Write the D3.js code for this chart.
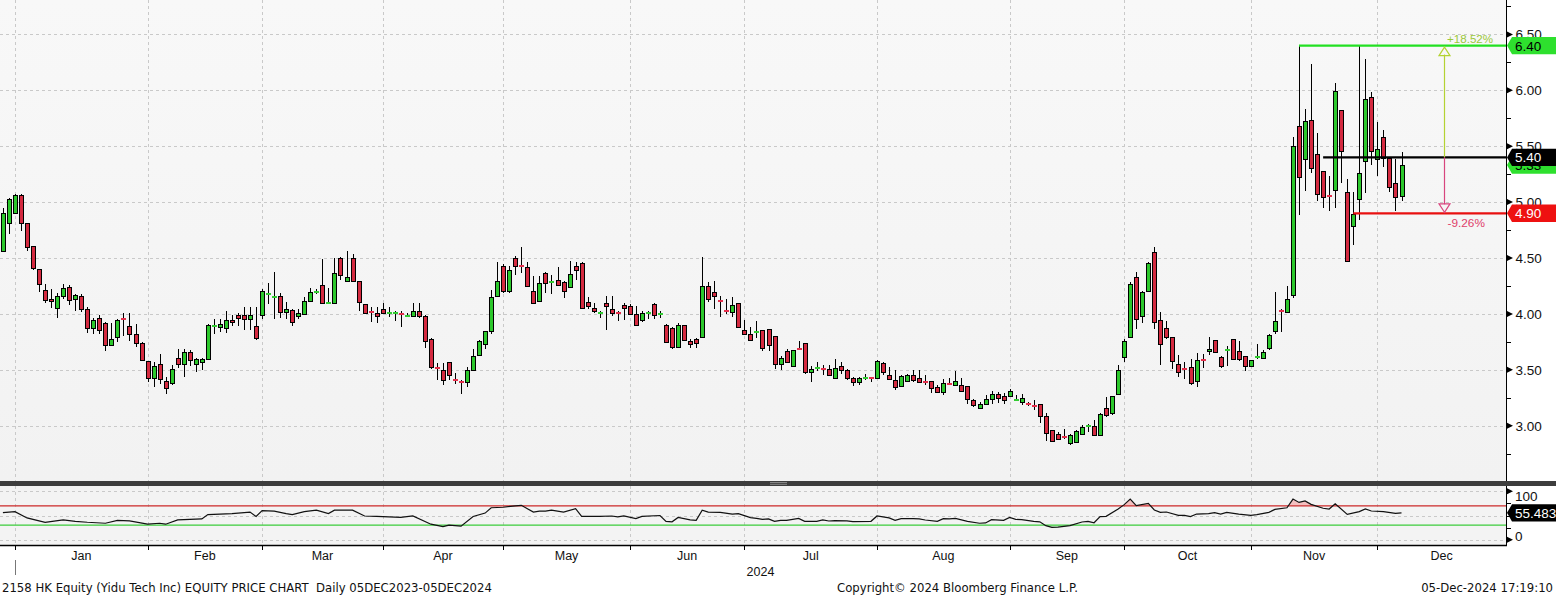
<!DOCTYPE html>
<html><head><meta charset="utf-8">
<script src="https://cdn.jsdelivr.net/npm/d3@7"></script>
<style>body{margin:0;background:#fff;}svg{display:block;}</style>
</head><body>
<svg id="chart" width="1556" height="597"></svg>
<script>
// ---------- DATA ----------
const opens = [4.563,4.811,4.90,5.066,4.811,4.608,4.398,4.213,4.13,4.057,4.162,4.243,4.135,4.162,4.048,3.877,3.967,3.922,3.725,3.793,
3.96,3.89,3.823,3.743,3.575,3.428,3.554,3.404,3.383,3.608,3.554,3.66,3.554,3.569,3.60,3.89,3.886,3.877,3.949,3.99,
3.99,3.95,3.89,3.994,4.175,4.145,4.164,4.015,4.036,3.98,4.0,4.113,4.195,4.262,4.095,4.098,4.50,4.292,4.50,4.292,
4.089,4.02,4.009,4.045,4.005,4.01,4.0,3.98,3.985,4.03,3.985,3.777,3.52,3.50,3.569,3.41,3.395,3.39,3.50,3.628,
3.732,3.845,4.164,4.43,4.202,4.50,4.435,4.423,4.208,4.113,4.366,4.283,4.304,4.286,4.238,4.43,4.455,4.104,4.054,4.003,
4.101,4.045,4.01,4.083,4.068,4.0,3.946,4.006,4.089,3.997,3.905,3.875,3.702,3.905,3.762,3.777,3.792,4.253,4.196,4.116,
4.027,4.018,4.098,3.857,3.821,3.84,3.86,3.866,3.798,3.554,3.664,3.533,3.69,3.741,3.479,3.512,3.512,3.503,3.429,3.53,
3.50,3.429,3.393,3.426,3.426,3.426,3.56,3.455,3.411,3.357,3.399,3.455,3.426,3.393,3.399,3.345,3.30,3.378,3.363,3.36,
3.351,3.226,3.158,3.194,3.238,3.286,3.262,3.268,3.232,3.214,3.194,3.179,3.19,3.089,2.964,2.929,2.90,2.848,2.857,2.929,
2.997,3.0,2.92,3.161,3.113,3.286,3.613,3.792,4.327,3.985,4.202,4.554,3.946,3.875,3.792,3.554,3.512,3.524,3.399,3.592,
3.667,3.768,3.613,3.679,3.777,3.667,3.619,3.53,3.61,3.604,3.696,3.851,4.027,4.021,4.165,5.68,5.383,5.733,5.427,5.279,
5.059,5.11,5.823,5.089,4.789,5.026,5.368,5.936,5.383,5.579,5.398,5.169,5.059];
const highs = [4.95,5.04,5.075,5.075,4.811,4.608,4.40,4.27,4.22,4.19,4.27,4.26,4.18,4.18,4.06,3.967,3.99,3.93,3.922,3.95,
4.01,4.01,3.91,3.75,3.58,3.57,3.64,3.434,3.54,3.69,3.69,3.674,3.61,3.61,3.913,3.95,3.95,4.03,3.99,4.01,
4.06,4.06,4.06,4.223,4.28,4.372,4.19,4.11,4.04,4.045,4.149,4.23,4.223,4.49,4.23,4.50,4.512,4.565,4.536,4.292,
4.09,4.065,4.06,4.095,4.06,4.03,4.024,4.006,4.095,4.10,3.99,3.78,3.56,3.56,3.569,3.47,3.405,3.524,3.69,3.77,
3.85,4.214,4.46,4.446,4.43,4.521,4.595,4.467,4.342,4.342,4.372,4.35,4.417,4.298,4.476,4.467,4.46,4.155,4.095,4.03,
4.164,4.164,4.03,4.095,4.09,4.074,4.024,4.03,4.098,4.024,3.91,3.88,3.917,3.905,3.777,3.786,4.506,4.283,4.292,4.164,
4.134,4.155,4.098,3.946,3.887,3.935,3.86,3.866,3.80,3.619,3.688,3.679,3.762,3.741,3.53,3.568,3.539,3.539,3.598,3.568,
3.509,3.44,3.44,3.458,3.44,3.589,3.568,3.521,3.50,3.45,3.464,3.50,3.494,3.45,3.40,3.36,3.42,3.426,3.485,3.426,
3.352,3.241,3.211,3.277,3.31,3.30,3.292,3.33,3.271,3.28,3.211,3.232,3.19,3.113,2.964,2.943,2.973,2.923,2.958,3.003,
3.018,3.048,3.113,3.256,3.262,3.539,3.777,4.283,4.372,4.202,4.46,4.601,4.021,3.935,3.792,3.628,3.568,3.598,3.649,3.643,
3.792,3.768,3.619,3.717,3.777,3.762,3.619,3.592,3.732,3.679,3.821,4.193,4.045,4.253,5.585,6.40,5.837,6.233,5.615,5.28,
5.234,6.069,5.823,5.208,5.086,6.40,6.283,5.986,5.719,5.644,5.40,5.386,5.445];
const lows = [4.55,4.713,4.90,4.745,4.566,4.392,4.198,4.10,4.054,3.96,4.13,4.08,4.03,4.02,3.83,3.82,3.82,3.668,3.72,3.75,
3.80,3.76,3.70,3.585,3.39,3.35,3.37,3.284,3.36,3.518,3.434,3.53,3.48,3.50,3.59,3.82,3.84,3.83,3.89,3.89,
3.86,3.86,3.77,3.955,4.09,3.955,3.96,3.95,3.89,3.955,3.995,4.104,4.18,4.089,4.089,4.095,4.30,4.29,4.29,4.03,
4.0,3.926,3.92,4.0,3.97,3.94,3.887,3.976,3.98,3.96,3.696,3.509,3.405,3.36,3.405,3.375,3.286,3.35,3.50,3.625,
3.69,3.82,4.149,4.19,4.187,4.35,4.363,4.238,4.095,4.104,4.185,4.18,4.247,4.143,4.238,4.304,4.05,4.045,4.006,3.96,
3.857,3.985,3.94,3.946,3.994,3.90,3.926,3.955,3.95,3.964,3.747,3.688,3.70,3.762,3.696,3.696,3.786,4.104,4.045,3.97,
4.0,3.976,3.875,3.815,3.762,3.783,3.667,3.667,3.509,3.50,3.56,3.53,3.673,3.464,3.39,3.488,3.45,3.45,3.426,3.464,
3.405,3.354,3.366,3.41,3.39,3.42,3.45,3.414,3.321,3.351,3.39,3.39,3.384,3.36,3.292,3.292,3.277,3.36,3.36,3.31,
3.197,3.167,3.146,3.185,3.197,3.203,3.19,3.256,3.226,3.182,3.176,3.137,3.024,2.863,2.854,2.869,2.884,2.83,2.857,2.923,
2.94,2.92,2.92,3.077,3.092,3.286,3.574,3.792,3.866,3.917,4.20,3.866,3.539,3.777,3.509,3.44,3.42,3.36,3.345,3.518,
3.628,3.649,3.518,3.53,3.589,3.577,3.488,3.524,3.598,3.598,3.679,3.821,3.836,4.009,4.144,4.887,5.095,5.258,5.006,4.946,
4.916,4.946,5.169,4.477,4.62,4.842,5.08,5.332,5.237,5.318,5.086,4.916,5.006];
const closes = [4.901,5.025,5.066,4.811,4.602,4.413,4.263,4.123,4.115,4.162,4.228,4.123,4.165,4.048,3.877,3.949,3.859,3.725,3.778,3.949,
3.95,3.817,3.74,3.59,3.428,3.53,3.42,3.338,3.509,3.554,3.66,3.59,3.60,3.60,3.904,3.895,3.913,3.949,3.93,3.967,
3.95,3.99,3.78,4.208,4.18,4.15,4.021,4.04,3.932,4.009,4.119,4.20,4.20,4.095,4.10,4.366,4.348,4.333,4.292,4.104,
4.009,4.012,3.98,4.009,4.012,4.012,3.99,3.985,4.03,3.985,3.762,3.524,3.515,3.405,3.45,3.405,3.39,3.494,3.622,3.762,
3.845,4.149,4.298,4.208,4.393,4.43,4.43,4.247,4.095,4.277,4.274,4.286,4.256,4.202,4.357,4.393,4.051,4.068,4.03,4.006,
4.068,4.006,4.003,4.051,4.0,3.902,4.006,4.009,3.994,4.0,3.753,3.702,3.905,3.771,3.732,3.741,4.253,4.134,4.158,4.113,
4.024,4.083,3.881,3.821,3.771,3.845,3.693,3.723,3.554,3.607,3.569,3.673,3.685,3.479,3.509,3.515,3.506,3.456,3.518,3.50,
3.429,3.393,3.429,3.429,3.42,3.583,3.479,3.414,3.345,3.446,3.455,3.405,3.39,3.387,3.336,3.30,3.384,3.372,3.396,3.31,
3.241,3.188,3.197,3.241,3.286,3.247,3.232,3.313,3.235,3.25,3.188,3.173,3.089,2.938,2.863,2.884,2.899,2.917,2.952,2.991,
3.0,2.92,3.101,3.098,3.262,3.494,3.762,4.268,3.955,4.196,4.455,3.929,3.732,3.792,3.583,3.482,3.509,3.381,3.589,3.586,
3.687,3.658,3.53,3.682,3.598,3.598,3.53,3.589,3.613,3.661,3.815,3.94,4.024,4.134,5.502,5.222,5.727,5.303,5.071,5.044,
5.053,5.992,5.454,4.477,4.896,5.258,5.918,5.457,5.472,5.398,5.133,5.044,5.332];

// RSI(14) readings: [candle number, value]
const rsiReadings = [[1,56],[3,58],[5,45],[8,36],[11,41],[13,38],[15,36],[18,34],[20,40],[22,39],[25,32],[27,34],[28,32],[30,41],[34,43],[35,52],[39,54],[42,57],[43,48],[44,60],[46,59],[48,54],[49,52],[51,58],[53,61],[55,54],[56,61],[59,61],[61,49],[63,48],[67,46],[69,49],[72,32],[74,27],[75,30],[77,28],[79,48],[81,55],[82,66],[84,67],[86,70],[87,71],[89,57],[90,59],[91,59],[92,61],[94,57],[96,64],[97,48],[100,48],[102,49],[103,47],[104,49],[106,43.5],[107,48],[110,50],[111,38],[112,37],[113,46],[115,41],[116,40],[117,61],[118,57],[120,56.5],[122,53],[123,54],[125,45.5],[126,44],[127,42],[128,43],[129,38],[130,40],[131,40],[133,44],[134,38],[136,38],[137,41],[138,38.6],[139,39.3],[141,39],[142,37.3],[145,38],[146,49],[148,45],[149,40],[150,43.5],[152,43.5],[153,43],[154,40.7],[156,38],[157,43.5],[158,43],[159,44],[161,38],[163,34],[164,34.6],[165,41.4],[167,40],[168,46],[169,42],[170,41.4],[172,38],[173,37],[174,29],[175,25.5],[176,26],[178,29],[180,36.6],[181,38],[182,35],[183,47.6],[184,48.3],[186,63.4],[187,72.4],[188,84],[189,70.3],[191,75],[192,61.4],[193,56.5],[194,57.2],[196,50.3],[197,50.3],[198,47.6],[199,53],[201,53.8],[202,55.8],[203,53],[204,56.5],[206,53],[208,50.3],[209,51.7],[211,56.5],[212,62.7],[214,66],[215,84],[216,77],[217,80],[218,73],[220,65],[221,63.4],[222,74.4],[224,52.4],[226,58],[227,63.4],[228,59.3],[230,58],[232,54.5],[233,55.483]];
const rsiLast = 55.483;

const monthLabels = ["Jan","Feb","Mar","Apr","May","Jun","Jul","Aug","Sep","Oct","Nov","Dec"];
const monthStartIdx = [3,25,44,64,84,105,124,146,168,187,208,229];   // first candle of each month
const yearLabel = "2024";
const priceTicks = [3.0,3.5,4.0,4.5,5.0,5.5,6.0,6.5];
const priceMinorTicks = [2.75,3.25,3.75,4.25,4.75,5.25,5.75,6.25,6.75];
const rsiTicks = [0,100];
const rsiMinorTicks = [25,50,75];
const rsiBands = [30,70];

// annotation levels (value, first candle)
const levelValues = [6.40, 5.40, 4.90];
const levelStart  = [216, 220, 225];
const arrowIdx = 240;
const lastClose = closes[closes.length-1];

// ---------- LAYOUT ----------
const W = 1556, H = 597;
const plotL = 0, plotR = 1506;
const mainTop = 0, mainBot = 481;
const rsiTop = 486, rsiBot = 545;

const svg = d3.select("#chart");
const x = d3.scaleLinear().domain([1, 233]).range([2.9, 1401.5]);
const y = d3.scaleLinear().domain([2.5054, 6.8077]).range([mainBot, mainTop]);
const yr = d3.scaleLinear().domain([0, 100]).range([539.7, 491.3]);

const FONT_AX = "'Liberation Sans', Arial, sans-serif";
const FONT_FT = "'DejaVu Sans', Verdana, sans-serif";

svg.append("rect").attr("width", W).attr("height", H).attr("fill", "#ffffff");

const defs = svg.append("defs");
const grad = defs.append("linearGradient").attr("id","bg").attr("x1",0).attr("y1",0).attr("x2",0).attr("y2",1);
grad.append("stop").attr("offset","0%").attr("stop-color","#f8f8f8");
grad.append("stop").attr("offset","100%").attr("stop-color","#f2f2f2");
svg.append("rect").attr("x",plotL).attr("y",mainTop).attr("width",plotR-plotL).attr("height",mainBot-mainTop).attr("fill","url(#bg)");
svg.append("rect").attr("x",plotL).attr("y",rsiTop).attr("width",plotR-plotL).attr("height",rsiBot-rsiTop).attr("fill","#f3f3f3");

// grid
const grid = svg.append("g").attr("stroke","#c9c9c9").attr("stroke-width",1).attr("stroke-dasharray","3,3").attr("shape-rendering","crispEdges");
priceTicks.forEach(v=>{
  const yy = Math.round(y(v))+0.5;
  grid.append("line").attr("x1",plotL).attr("x2",plotR).attr("y1",yy).attr("y2",yy);
});
[0,50,100].forEach(v=>{
  const yy = Math.round(yr(v))+0.5;
  grid.append("line").attr("x1",plotL).attr("x2",plotR).attr("y1",yy).attr("y2",yy);
});
monthStartIdx.forEach(i=>{
  const xx = Math.round(x(i))+0.5;
  grid.append("line").attr("x1",xx).attr("x2",xx).attr("y1",mainTop).attr("y2",mainBot);
  grid.append("line").attr("x1",xx).attr("x2",xx).attr("y1",rsiTop).attr("y2",rsiBot);
});

// candles
const candles = d3.range(opens.length).map(i=>({n:i+1,o:opens[i],h:highs[i],l:lows[i],c:closes[i]}));
const cg = svg.append("g").attr("shape-rendering","crispEdges");
const UP = "#2cc82c", DN = "#d42a40", UPD = "#33cc33", DND = "#e5304c";
candles.forEach(d=>{
  const cx = x(d.n);
  const k = Math.round(cx - 2);
  const rx = k + 0.5;
  const wx = k + 2.5;
  cg.append("line").attr("x1",wx).attr("x2",wx).attr("y1",y(d.h)).attr("y2",y(d.l)).attr("stroke","#000").attr("stroke-width",1);
  const y1 = y(Math.max(d.o,d.c)), y2 = y(Math.min(d.o,d.c));
  if (y2 - y1 < 1.6) {
    cg.append("rect").attr("x",k).attr("y",Math.round((y1+y2)/2)-1).attr("width",5).attr("height",2)
      .attr("fill", d.c >= d.o ? UPD : DND);
  } else {
    cg.append("rect").attr("x",rx).attr("y",Math.round(y1)+0.5).attr("width",4).attr("height",Math.max(1,Math.round(y2)-Math.round(y1)))
      .attr("fill", d.c >= d.o ? UP : DN).attr("stroke","#000").attr("stroke-width",1);
  }
});

// annotation level lines
const levelColors = ["#22e022","#000000","#e81010"];
levelValues.forEach((v,i)=>{
  svg.append("line").attr("x1",x(levelStart[i])).attr("x2",plotR).attr("y1",y(v)).attr("y2",y(v))
    .attr("stroke",levelColors[i]).attr("stroke-width",2.2);
});

// percentage arrow
const ax = Math.round(x(arrowIdx))+0.5;
const yHi = y(levelValues[0]), yRef = y(levelValues[1]), yLo = y(levelValues[2]);
svg.append("line").attr("x1",ax).attr("x2",ax).attr("y1",yHi+9).attr("y2",yRef).attr("stroke","#b4d232").attr("stroke-width",1.2);
svg.append("line").attr("x1",ax).attr("x2",ax).attr("y1",yRef).attr("y2",yLo-9).attr("stroke","#d8457e").attr("stroke-width",1.2);
svg.append("path").attr("d",`M${ax},${yHi+1.5} L${ax-5.5},${yHi+10} L${ax+5.5},${yHi+10} Z`).attr("fill","none").attr("stroke","#b4d232").attr("stroke-width",1.2);
svg.append("path").attr("d",`M${ax},${yLo-1} L${ax-5.5},${yLo-9.5} L${ax+5.5},${yLo-9.5} Z`).attr("fill","none").attr("stroke","#d8457e").attr("stroke-width",1.2);
const upPct = (levelValues[0]/levelValues[1]-1)*100, dnPct = (levelValues[2]/levelValues[1]-1)*100;
svg.append("text").attr("x",ax+2.5).attr("y",yHi-2.5).attr("font-family",FONT_AX).attr("font-size",11.6).attr("fill","#9cc83a").text("+"+upPct.toFixed(2)+"%");
svg.append("text").attr("x",ax+3).attr("y",yLo+14).attr("font-family",FONT_AX).attr("font-size",11.8).attr("fill","#e0406a").text(dnPct.toFixed(2)+"%");

// RSI panel
const rsiPts = rsiReadings.map(d=>[x(d[0]), yr(d[1])]);
defs.append("clipPath").attr("id","above70").append("rect").attr("x",plotL).attr("y",rsiTop).attr("width",plotR).attr("height",yr(70)-rsiTop);
defs.append("clipPath").attr("id","below30").append("rect").attr("x",plotL).attr("y",yr(30)).attr("width",plotR).attr("height",rsiBot-yr(30));
const areaHi = d3.area().x(d=>d[0]).y0(yr(70)).y1(d=>d[1]);
const areaLo = d3.area().x(d=>d[0]).y0(yr(30)).y1(d=>d[1]);
svg.append("path").attr("d",areaHi(rsiPts)).attr("fill","#f4c0c0").attr("clip-path","url(#above70)");
svg.append("path").attr("d",areaLo(rsiPts)).attr("fill","#c4eec4").attr("clip-path","url(#below30)");
svg.append("line").attr("x1",plotL).attr("x2",plotR).attr("y1",yr(70)).attr("y2",yr(70)).attr("stroke","#cc2a2a").attr("stroke-width",1.2);
svg.append("line").attr("x1",plotL).attr("x2",plotR).attr("y1",yr(30)).attr("y2",yr(30)).attr("stroke","#3ccc3c").attr("stroke-width",1.2);
svg.append("path").attr("d",d3.line()(rsiPts)).attr("fill","none").attr("stroke","#111").attr("stroke-width",1.2);

// divider band
svg.append("rect").attr("x",0).attr("y",481).attr("width",W).attr("height",5).attr("fill","#3d3d3d");
svg.append("line").attr("x1",770).attr("x2",787).attr("y1",482.5).attr("y2",482.5).attr("stroke","#9a9a9a").attr("stroke-width",0.8);
svg.append("line").attr("x1",770).attr("x2",787).attr("y1",484.3).attr("y2",484.3).attr("stroke","#9a9a9a").attr("stroke-width",0.8);

// right axes
const axg = svg.append("g");
axg.append("line").attr("x1",plotR+0.5).attr("x2",plotR+0.5).attr("y1",mainTop).attr("y2",mainBot).attr("stroke","#000");
axg.append("line").attr("x1",plotR+0.5).attr("x2",plotR+0.5).attr("y1",rsiTop).attr("y2",rsiBot).attr("stroke","#000");
const yAxis = d3.axisRight(y).tickValues(priceTicks).tickSize(0).tickPadding(9).tickFormat(d3.format(".2f"));
const ya = axg.append("g").attr("transform",`translate(${plotR+0.5},0)`).call(yAxis);
ya.select(".domain").remove();
ya.selectAll("text").attr("font-family",FONT_AX).attr("font-size",13.5).attr("fill","#111");
priceTicks.forEach(v=>{
  const yy=y(v);
  axg.append("path").attr("d",`M${plotR+1},${yy-3} L${plotR+7},${yy} L${plotR+1},${yy+3} Z`).attr("fill","#000");
});
priceMinorTicks.forEach(v=>{
  const yy=Math.round(y(v))+0.5;
  axg.append("line").attr("x1",plotR).attr("x2",plotR+5).attr("y1",yy).attr("y2",yy).attr("stroke","#000");
});
rsiTicks.forEach(v=>{
  const yy=yr(v);
  axg.append("path").attr("d",`M${plotR+1},${yy-3} L${plotR+7},${yy} L${plotR+1},${yy+3} Z`).attr("fill","#000");
});
rsiMinorTicks.forEach(v=>{
  const yy=Math.round(yr(v))+0.5;
  axg.append("line").attr("x1",plotR).attr("x2",plotR+5).attr("y1",yy).attr("y2",yy).attr("stroke","#000");
});
axg.append("text").attr("x",plotR+9).attr("y",yr(100)+9.5).attr("font-family",FONT_AX).attr("font-size",13.5).attr("fill","#111").text("100");
axg.append("text").attr("x",plotR+9).attr("y",yr(0)+1).attr("font-family",FONT_AX).attr("font-size",13.5).attr("fill","#111").text("0");

// price label boxes
function tag(cy, label, fill, txt){
  const g = svg.append("g");
  g.append("path").attr("d",`M${plotR+1},${cy} L${plotR+6},${cy-8.7} L${W},${cy-8.7} L${W},${cy+8.7} L${plotR+6},${cy+8.7} Z`).attr("fill",fill);
  g.append("text").attr("x",plotR+9).attr("y",cy+5).attr("font-family",FONT_AX).attr("font-size",13.5).attr("fill",txt).text(label);
}
tag(y(levelValues[0]), levelValues[0].toFixed(2), "#2ee02e", "#000");
tag(y(lastClose), lastClose.toFixed(2), "#2ee02e", "#000");
tag(y(levelValues[1]), levelValues[1].toFixed(2), "#000000", "#fff");
tag(y(levelValues[2]), levelValues[2].toFixed(2), "#ee1111", "#fff");
tag(yr(rsiLast), rsiLast.toFixed(3), "#000000", "#fff");

// bottom axis
const bx = svg.append("g");
bx.append("line").attr("x1",0).attr("x2",plotR+1).attr("y1",rsiBot+0.5).attr("y2",rsiBot+0.5).attr("stroke","#000").attr("stroke-width",1.3);
const bounds = monthStartIdx.map(i=>x(i)).concat([plotR]);
monthStartIdx.forEach((i,k)=>{
  const xx = Math.round(x(i))+0.5;
  bx.append("line").attr("x1",xx).attr("x2",xx).attr("y1",rsiBot).attr("y2",rsiBot+5).attr("stroke","#000");
  bx.append("text").attr("x",(bounds[k]+bounds[k+1])/2).attr("y",560).attr("text-anchor","middle")
    .attr("font-family",FONT_AX).attr("font-size",12.5).attr("fill","#111").text(monthLabels[k]);
});
const xj = Math.round(x(monthStartIdx[0]))+0.5;
bx.append("line").attr("x1",xj).attr("x2",xj).attr("y1",560).attr("y2",575).attr("stroke","#777");
bx.append("text").attr("x",(x(monthStartIdx[0])+plotR)/2).attr("y",576).attr("text-anchor","middle")
  .attr("font-family",FONT_AX).attr("font-size",12.5).attr("fill","#111").text(yearLabel);

// footer
svg.append("text").attr("x",2).attr("y",591.5).attr("font-family",FONT_FT).attr("font-size",11.7).attr("fill","#111")
  .style("white-space","pre").text("2158 HK Equity (Yidu Tech Inc) EQUITY PRICE CHART  Daily 05DEC2023-05DEC2024");
svg.append("text").attr("x",837).attr("y",591.5).attr("font-family",FONT_FT).attr("font-size",11.7).attr("fill","#111")
  .text("Copyright\u00A9 2024 Bloomberg Finance L.P.");
svg.append("text").attr("x",1553).attr("y",591.5).attr("text-anchor","end").attr("font-family",FONT_FT).attr("font-size",11.7).attr("fill","#111")
  .text("05-Dec-2024 17:19:10");
</script>
</body></html>
